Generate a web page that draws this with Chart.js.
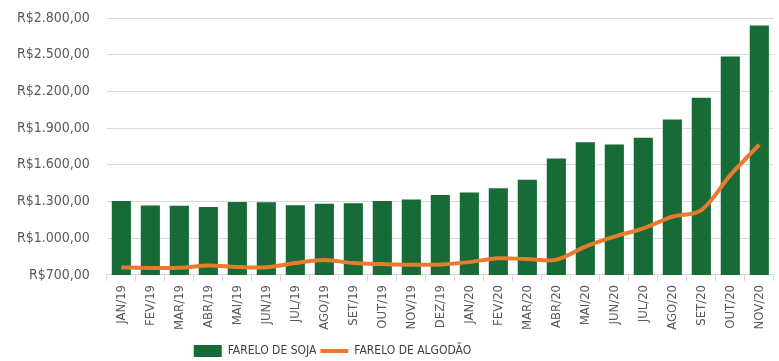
<!DOCTYPE html>
<html>
<head>
<meta charset="utf-8">
<script src="https://cdn.jsdelivr.net/npm/chart.js@4/dist/chart.umd.min.js"></script>
<style>
  html, body { margin: 0; padding: 0; background: #fff; }
  #wrap { width: 779px; height: 361px; }
</style>
</head>
<body>
<div id="wrap"><canvas id="chart"></canvas></div>
<script>
const months = ['JAN/19','FEV/19','MAR/19','ABR/19','MAI/19','JUN/19','JUL/19','AGO/19','SET/19','OUT/19','NOV/19','DEZ/19',
                'JAN/20','FEV/20','MAR/20','ABR/20','MAI/20','JUN/20','JUL/20','AGO/20','SET/20','OUT/20','NOV/20'];

const soja    = [1305, 1268, 1265, 1256, 1297, 1295, 1270, 1281, 1286, 1305, 1316, 1354,
                 1373, 1408, 1478, 1651, 1784, 1767, 1822, 1970, 2148, 2486, 2738];
const algodao = [762, 757, 758, 778, 765, 763, 797, 822, 797, 789, 784, 786,
                 805, 836, 830, 824, 932, 1013, 1081, 1176, 1230, 1516, 1765];

const yTicks = [700, 1000, 1300, 1600, 1900, 2200, 2500, 2800];

const green  = '#166B37';
const orange = '#E87B2E';
const txt    = '#595959';
const cond   = '"DejaVu Sans Condensed", "Liberation Sans Narrow", sans-serif';

function brl(v) {
  return 'R$' + v.toLocaleString('pt-BR', { minimumFractionDigits: 2, maximumFractionDigits: 2 });
}

// legend sits a bit left of centre in the original
const legendShift = {
  id: 'legendShift',
  afterLayout(chart) {
    chart.legend.left -= 62;
    chart.legend.right -= 62;
  },
};

new Chart(document.getElementById('chart'), {
  plugins: [legendShift],
  data: {
    labels: months,
    datasets: [
      {
        type: 'line',
        label: 'FARELO DE ALGODÃO',
        data: algodao,
        borderColor: orange,
        backgroundColor: orange,
        borderWidth: 4,
        pointRadius: 0,
        tension: 0.35,
        order: 0,
      },
      {
        type: 'bar',
        label: 'FARELO DE SOJA',
        data: soja,
        backgroundColor: green,
        barPercentage: 0.66,
        categoryPercentage: 1,
        order: 1,
      },
    ],
  },
  options: {
    responsive: true,
    maintainAspectRatio: false,
    animation: false,
    layout: { padding: { left: 14, right: 4, top: 18, bottom: -6 } },
    plugins: {
      tooltip: { enabled: false },
      legend: {
        position: 'bottom',
        labels: {
          usePointStyle: true,
          pointStyleWidth: 28,
          boxHeight: 14,
          padding: 4,
          color: '#404040',
          font: { family: cond, size: 12 },
          generateLabels: (chart) => chart.data.datasets.slice().reverse().map((ds) => ({
            text: ds.label,
            fillStyle: ds.type === 'bar' ? green : orange,
            strokeStyle: ds.type === 'bar' ? green : orange,
            lineWidth: ds.type === 'bar' ? 0 : 4,
            pointStyle: ds.type === 'bar' ? 'rect' : 'line',
            fontColor: '#404040',
            datasetIndex: chart.data.datasets.indexOf(ds),
          })),
        },
      },
    },
    scales: {
      x: {
        afterFit: (axis) => { axis.height += 7; },
        grid: { drawOnChartArea: false, drawTicks: true, tickLength: 6, color: '#d9d9d9', offset: true },
        border: { display: true, color: '#d9d9d9' },
        ticks: {
          minRotation: 90, maxRotation: 90, autoSkip: false,
          color: txt, padding: 4,
          font: { family: cond, size: 13 },
        },
      },
      y: {
        min: 700, max: 2800,
        afterBuildTicks: (axis) => { axis.ticks = yTicks.map(v => ({ value: v })); },
        grid: { color: '#d9d9d9', drawTicks: true, tickLength: 14, tickColor: 'rgba(0,0,0,0)' },
        border: { display: false },
        ticks: {
          color: txt, padding: 3,
          font: { family: cond, size: 14 },
          callback: (v) => brl(v),
        },
      },
    },
  },
});
</script>
</body>
</html>
